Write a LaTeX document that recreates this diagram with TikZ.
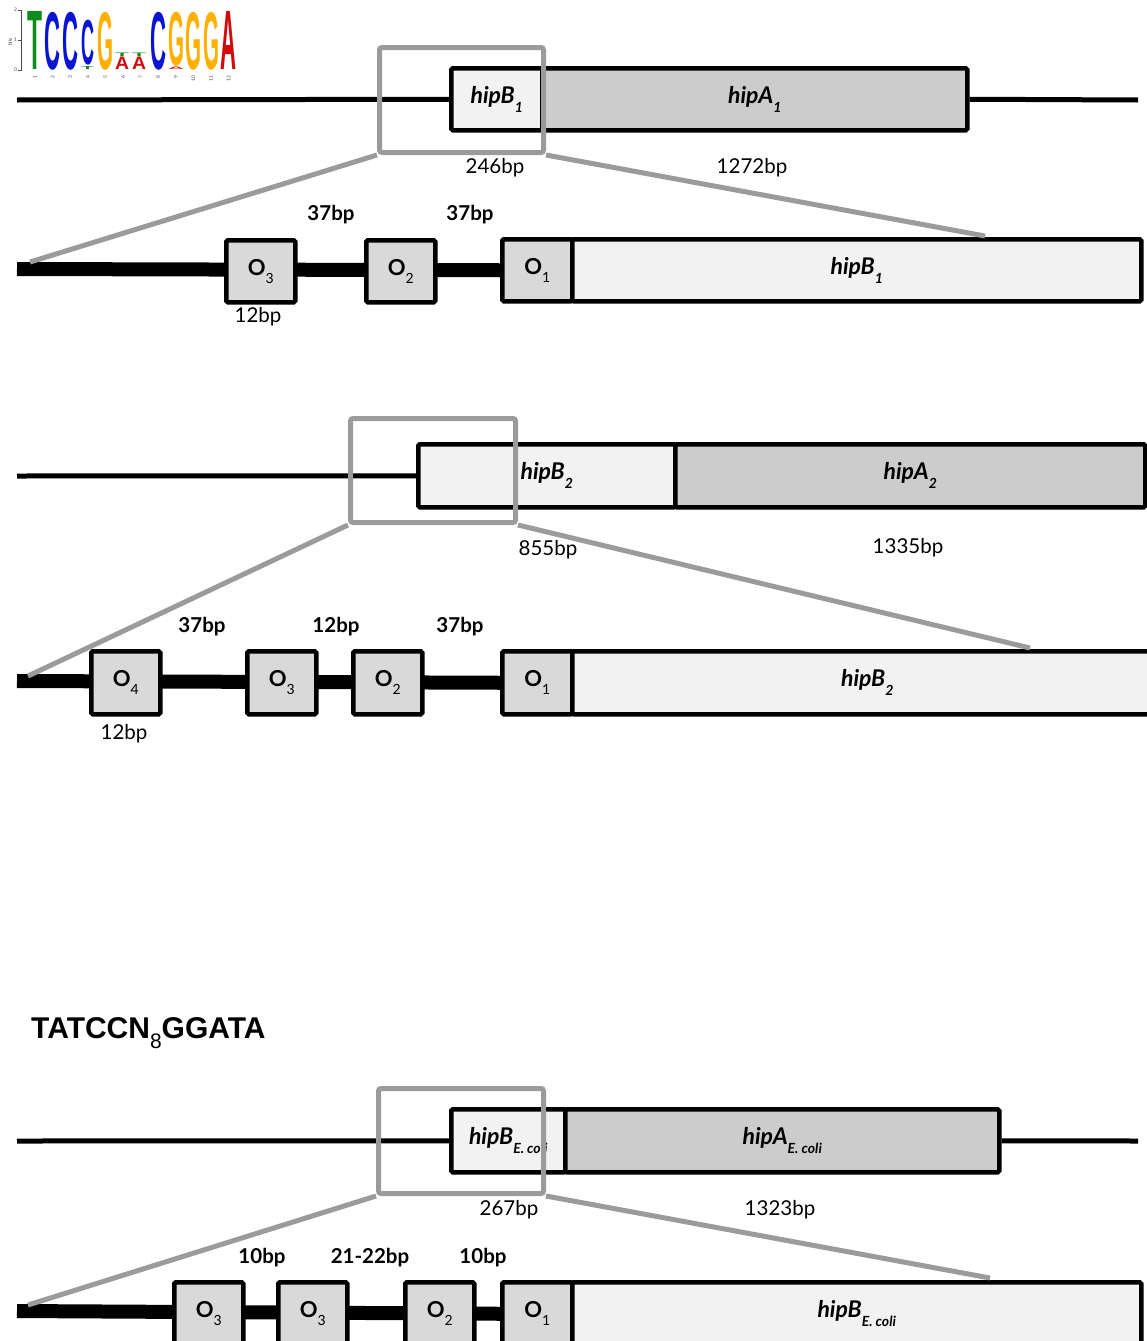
\documentclass[tikz,border=0pt]{standalone}
\usepackage{fontspec}
\setmainfont{Lato}
\newfontfamily\arialf{Liberation Sans}
\usepackage{graphicx}
\definecolor{lightg}{HTML}{F2F2F2}
\definecolor{midg}{HTML}{CCCCCC}
\definecolor{opg}{HTML}{D9D9D9}
\definecolor{zoomg}{HTML}{9B9B9B}
\definecolor{lgreen}{HTML}{0F8C1E}
\definecolor{lblue}{HTML}{0A14D2}
\definecolor{lorange}{HTML}{FFB000}
\definecolor{lred}{HTML}{D20A0A}
\pgfdeclarelayer{bg}
\pgfsetlayers{bg,main}
\newcommand\gsub[1]{\raisebox{-0.38em}{\fontsize{14}{14}\selectfont #1}}
\newcommand\osub[1]{\raisebox{-0.38em}{\mdseries\fontsize{14}{14}\selectfont #1}}
\newcommand\logoletter[3]{\resizebox*{#1pt}{#2pt}{\arialf\bfseries #3}}
\tikzset{
  dna/.style={line width=5pt, black},
  dnathick/.style={line width=14pt, black},
  genebox/.style={draw=black, line width=4.5pt, rounded corners=1.5pt, inner sep=0pt, anchor=north west,
    font=\bfseries\itshape\fontsize{23}{23}\selectfont},
  hipbbox/.style={genebox, fill=lightg},
  hipabox/.style={genebox, fill=midg},
  opbox/.style={genebox, fill=opg, minimum width=69pt, minimum height=62pt,
    font=\bfseries\fontsize{22}{22}\selectfont},
  zoombox/.style={draw=zoomg, line width=5pt, rounded corners=2.5pt, inner sep=0pt, anchor=north west},
  zoomline/.style={draw=zoomg, line width=5pt},
  bplab/.style={font=\fontsize{20.5}{20.5}\selectfont, inner sep=0pt},
  bpbold/.style={font=\bfseries\fontsize{20.5}{20.5}\selectfont, inner sep=0pt},
  logoL/.style={inner sep=0pt, anchor=south west},
  tinylab/.style={font=\fontsize{5}{5}\selectfont, inner sep=0pt, text=black!70},
}
\begin{document}
\begin{tikzpicture}[x=1pt,y=-1pt]
\useasboundingbox (0,0) rectangle (1146,1341);

% ---------- sequence logo ----------
\draw[black!70, line width=0.8pt] (21,10) -- (21,71);
\foreach \yy in {10,40,70}{
  \draw[black!70, line width=0.6pt] (21,\yy) -- (18,\yy);
}
\node[tinylab] (ax2) at (15.5,10) {2};
\node[tinylab] (ax1) at (15.5,40) {1};
\node[tinylab] (ax0) at (15.5,70) {0};
\node[tinylab, rotate=90] (bits) at (10,42) {bits};

\node[logoL, text=lgreen]  (p1)  at (27.0,70) {\logoletter{15}{58}{T}};
\node[logoL, text=lblue]   (p2)  at (44.6,70) {\logoletter{16}{58}{C}};
\node[logoL, text=lblue]   (p3)  at (62.2,70) {\logoletter{16}{58}{C}};
\node[logoL, text=lgreen]  (p4b) at (81,70) {\logoletter{13}{3}{T}};
\node[logoL, text=lblue]   (p4)  at (81,65.5) {\logoletter{13}{45}{C}};
\node[logoL, text=lorange] (p5)  at (97.4,70) {\logoletter{16}{58}{G}};
\node[logoL, text=lred]    (p6)  at (115,70) {\logoletter{14}{12.5}{A}};
\node[logoL, text=lgreen]  (p6b) at (115,57) {\logoletter{14}{3.5}{T}};
\node[logoL, text=lred]    (p7)  at (132,70) {\logoletter{14}{12.5}{A}};
\node[logoL, text=lgreen]  (p7b) at (132,57) {\logoletter{14}{3.5}{T}};
\node[logoL, text=lblue]   (p8)  at (150.2,70) {\logoletter{16}{58}{C}};
\node[logoL, text=lred]    (p9b) at (168,70) {\logoletter{16}{2.5}{A}};
\node[logoL, text=lorange] (p9)  at (168,66.5) {\logoletter{16}{54}{G}};
\node[logoL, text=lorange] (p10) at (185.4,70) {\logoletter{16}{58}{G}};
\node[logoL, text=lorange] (p11) at (203,70) {\logoletter{16}{58}{G}};
\node[logoL, text=lred]    (p12) at (220.6,70) {\logoletter{16}{58}{A}};
\foreach \i in {1,...,12}{
  \node[tinylab, rotate=90, anchor=east] (n\i) at ({27+8+17.6*(\i-1)},75) {\i};
}

% ---------- section 1 ----------
\node[hipbbox, minimum width=91pt, minimum height=62pt] (hipBone) at (449,66) {hipB\gsub{1}};
\node[hipabox, minimum width=425pt, minimum height=62pt] (hipAone) at (540,66) {hipA\gsub{1}};
\coordinate (l1s) at (17,100);
\coordinate (l1e) at (1138,100);
\draw[dna] (l1s) -- (hipBone.west);
\draw[dna] (hipAone.east) -- (l1e);
\node[bplab] (bp246) at (495,168) {246bp};
\node[bplab] (bp1272) at (752,168) {1272bp};

\node[opbox] (oA3) at (224,238) {O\osub{3}};
\node[opbox] (oA2) at (364,238) {O\osub{2}};
\node[opbox, minimum width=70pt] (oA1) at (500,237) {O\osub{1}};
\node[hipbbox, minimum width=569pt, minimum height=62pt] (hipBonez) at (570,237) {hipB\gsub{1}};
\coordinate (z1s) at (17,269);
\begin{pgfonlayer}{bg}
\draw[dnathick] (z1s) -- (oA1.west);
\end{pgfonlayer}
\node[bpbold] (sA1) at (331,215) {37bp};
\node[bpbold] (sA2) at (470,215) {37bp};
\node[bplab] (sA3) at (258,317) {12bp};

\node[zoombox, minimum width=164pt, minimum height=105pt] (zoomA) at (377,45) {};
\coordinate (zAl) at (30,262);
\coordinate (zAr) at (985,236);
\draw[zoomline] (zoomA.south west) -- (zAl);
\draw[zoomline] (zoomA.south east) -- (zAr);

% ---------- section 2 ----------
\node[hipbbox, minimum width=257pt, minimum height=63pt] (hipBtwo) at (416,442) {hipB\gsub{2}};
\node[hipabox, minimum width=470pt, minimum height=63pt] (hipAtwo) at (673,442) {hipA\gsub{2}};
\coordinate (l2s) at (17,476);
\draw[dna] (l2s) -- (hipBtwo.west);
\node[bplab] (bp855) at (548,550) {855bp};
\node[bplab] (bp1335) at (908,548) {1335bp};

\node[opbox, minimum height=63pt] (oB4) at (89,649) {O\osub{4}};
\node[opbox, minimum height=63pt] (oB3) at (245,649) {O\osub{3}};
\node[opbox, minimum height=63pt] (oB2) at (351,649) {O\osub{2}};
\node[opbox, minimum width=70pt, minimum height=63pt] (oB1) at (500,649) {O\osub{1}};
\node[hipbbox, minimum width=590pt, minimum height=63pt] (hipBtwoz) at (570,649) {hipB\gsub{2}};
\coordinate (z2s) at (17,681);
\begin{pgfonlayer}{bg}
\draw[dnathick] (z2s) -- (oB1.west);
\end{pgfonlayer}
\node[bpbold] (sB1) at (202,627) {37bp};
\node[bpbold] (sB2) at (336,627) {12bp};
\node[bpbold] (sB3) at (460,627) {37bp};
\node[bplab] (sB4) at (124,734) {12bp};

\node[zoombox, minimum width=165pt, minimum height=104pt] (zoomB) at (348,416) {};
\coordinate (zBl) at (28,676);
\coordinate (zBr) at (1030,648);
\draw[zoomline] (zoomB.south west) -- (zBl);
\draw[zoomline] (zoomB.south east) -- (zBr);

% ---------- section 3 ----------
\node[inner sep=0pt, anchor=west, font=\arialf\bfseries\fontsize{30}{30}\selectfont] (motif) at (31,1033)
  {TATCCN\raisebox{-0.35em}{\mdseries\fontsize{21}{21}\selectfont 8}GGATA};

\node[hipbbox, minimum width=114pt, minimum height=63pt] (hipBthree) at (449,1107) {hipB\gsub{E. coli}};
\node[hipabox, minimum width=434pt, minimum height=63pt] (hipAthree) at (563,1107) {hipA\gsub{E. coli}};
\coordinate (l3s) at (17,1141);
\coordinate (l3e) at (1138,1141);
\draw[dna] (l3s) -- (hipBthree.west);
\draw[dna] (hipAthree.east) -- (l3e);
\node[bplab] (bp267) at (509,1210) {267bp};
\node[bplab] (bp1323) at (780,1210) {1323bp};

\node[opbox, minimum height=63pt] (oC4) at (172,1280) {O\osub{3}};
\node[opbox, minimum height=63pt] (oC3) at (276,1280) {O\osub{3}};
\node[opbox, minimum height=63pt] (oC2) at (403,1280) {O\osub{2}};
\node[opbox, minimum width=70pt, minimum height=63pt] (oC1) at (500,1280) {O\osub{1}};
\node[hipbbox, minimum width=569pt, minimum height=63pt] (hipBthreez) at (570,1280) {hipB\gsub{E. coli}};
\coordinate (z3s) at (17,1311);
\begin{pgfonlayer}{bg}
\draw[dnathick] (z3s) -- (oC1.west);
\end{pgfonlayer}
\node[bpbold] (sC1) at (262,1258) {10bp};
\node[bpbold] (sC2) at (370,1258) {21-22bp};
\node[bpbold] (sC3) at (483,1258) {10bp};

\node[zoombox, minimum width=165pt, minimum height=105pt] (zoomC) at (376,1086) {};
\coordinate (zCl) at (28,1305);
\coordinate (zCr) at (990,1278);
\draw[zoomline] (zoomC.south west) -- (zCl);
\draw[zoomline] (zoomC.south east) -- (zCr);
\end{tikzpicture}
\end{document}
